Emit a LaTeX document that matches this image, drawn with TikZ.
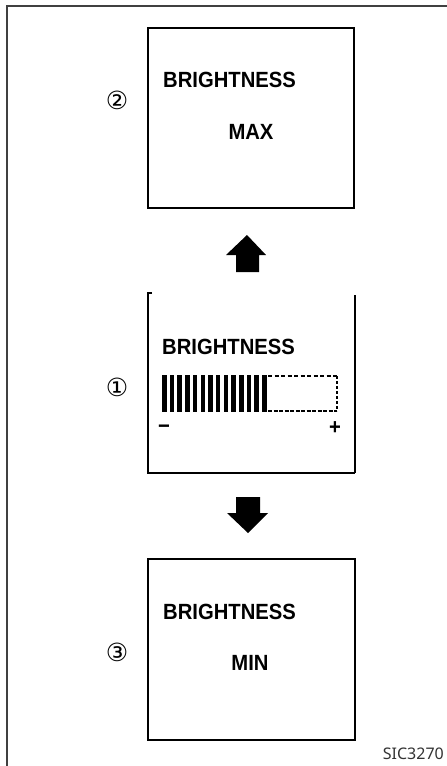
\documentclass[tikz,border=0pt]{standalone}
\usepackage{fontspec}
\setmainfont{Liberation Sans}
\newfontfamily\circfont{DejaVu Sans}
\newfontfamily\tagfont{Noto Sans}
\usetikzlibrary{positioning}

\tikzset{
  panel/.style={draw, line width=2pt, minimum width=206pt, minimum height=180pt, inner sep=0pt},
  lcdtext/.style={font=\fontsize{22}{22}\selectfont\bfseries, xscale=0.92, inner sep=0pt},
  stepno/.style={font=\circfont\fontsize{25}{25}\selectfont, inner sep=0pt},
}

\begin{document}
\begin{tikzpicture}[x=1pt,y=-1pt]
\useasboundingbox (0,0) rectangle (447,766);
% frame
\draw[line width=2pt, black!75] (7,766) -- (7,6) -- (447,6);

% step 2: max
\node[panel] (maxbox) at (251,118) {};
\node[lcdtext, anchor=west] (maxtitle) at (163,80) {BRIGHTNESS};
\node[lcdtext] (maxval) at (251,132) {MAX};
\node[stepno] (stepb) at (117,100) {②};

\fill (247,235) -- (266,255) -- (259,255) -- (259,272) -- (236,272) -- (236,255) -- (226,255) -- cycle;

% step 1: level bar
\draw[line width=2pt] (152,293) -- (148,293) -- (148,473) -- (355,473);
\draw[line width=2.6pt] (355,473) -- (355,295);
\node[lcdtext, anchor=west] (lvltitle) at (162,347) {BRIGHTNESS};
\node[stepno] (stepa) at (117,387) {①};
\foreach \i in {0,...,13}
  \fill (162+\i*7.7,375) rectangle ++(4.5,37);
\draw[line width=1.2pt, dash pattern=on 4pt off 2.5pt] (268,376) -- (337,376);
\draw[line width=1.2pt, dash pattern=on 4pt off 1.5pt] (268,411) -- (337,411);
\draw[line width=2.6pt, dash pattern=on 2.5pt off 2.5pt] (337,376) -- (337,411);
\node[lcdtext] (minus) at (164,429) {−};
\node[lcdtext] (plus) at (335,428) {+};

\fill (248,533) -- (268,513) -- (260,513) -- (260,497) -- (236,497) -- (236,513) -- (227,513) -- cycle;

% step 3: min
\node[panel, minimum width=207pt, minimum height=181pt] (minbox) at (251.5,649.5) {};
\node[lcdtext, anchor=west] (mintitle) at (163,612) {BRIGHTNESS};
\node[lcdtext] (minval) at (250,663) {MIN};
\node[stepno] (stepc) at (117,652) {③};

\node[anchor=east, font=\tagfont\fontsize{16}{16}\selectfont, text=black!80, inner sep=0pt] (tag) at (444,754) {SIC3270};
\end{tikzpicture}
\end{document}
